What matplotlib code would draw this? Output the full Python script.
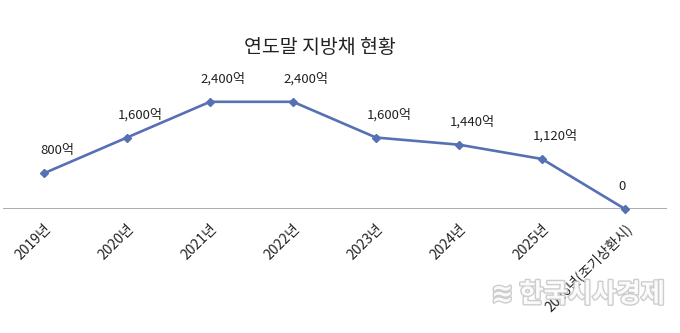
import matplotlib.pyplot as plt
import matplotlib.patheffects as pe

plt.rcParams['font.family'] = ['Noto Sans CJK KR', 'DejaVu Sans']

years = ["2019년", "2020년", "2021년", "2022년", "2023년", "2024년", "2025년", "2026년(조기상환시)"]
debt = [800, 1600, 2400, 2400, 1600, 1440, 1120, 0]  # 억 원
labels = ["800억", "1,600억", "2,400억", "2,400억", "1,600억", "1,440억", "1,120억", "0"]

fig = plt.figure(figsize=(6.8, 3.33), dpi=100)
ax = fig.add_axes([2.5 / 680, 124 / 333, 664 / 680, 134 / 333])

x = list(range(len(years)))
ax.plot(x, debt, color="#5670b4", linewidth=1.9, marker="D", markersize=4.5,
        zorder=3, clip_on=False)

for i, (v, lab) in enumerate(zip(debt, labels)):
    dx = -3 if v == 0 else 13
    ax.annotate(lab, (i, v), xytext=(dx, 23), textcoords="offset pixels",
                ha="center", va="center", fontsize=9.5, color="#222222")

ax.set_xlim(-0.5, len(years) - 0.5)
ax.set_ylim(0, 3000)
ax.axhline(0, color="#a6a6a6", linewidth=1.3, zorder=2)
for s in ax.spines.values():
    s.set_visible(False)
ax.set_yticks([])
ax.set_xticks(x)
ax.set_xticklabels(years, rotation=45, ha="right", va="top",
                   rotation_mode="anchor", fontsize=10, color="#222222")
ax.tick_params(axis="x", length=0, pad=9)

fig.text(0.47, 0.858, "연도말 지방채 현황", ha="center", va="center",
         fontsize=14, color="#222222")

# faint publisher mark
fig.text(0.85, 0.115, "≋ 한국시사경제", ha="center", va="center", fontsize=19,
         fontweight="bold", color="white", alpha=0.9,
         path_effects=[pe.withStroke(linewidth=2, foreground="#c8c8c8")])

fig.savefig("out.png", dpi=100)
